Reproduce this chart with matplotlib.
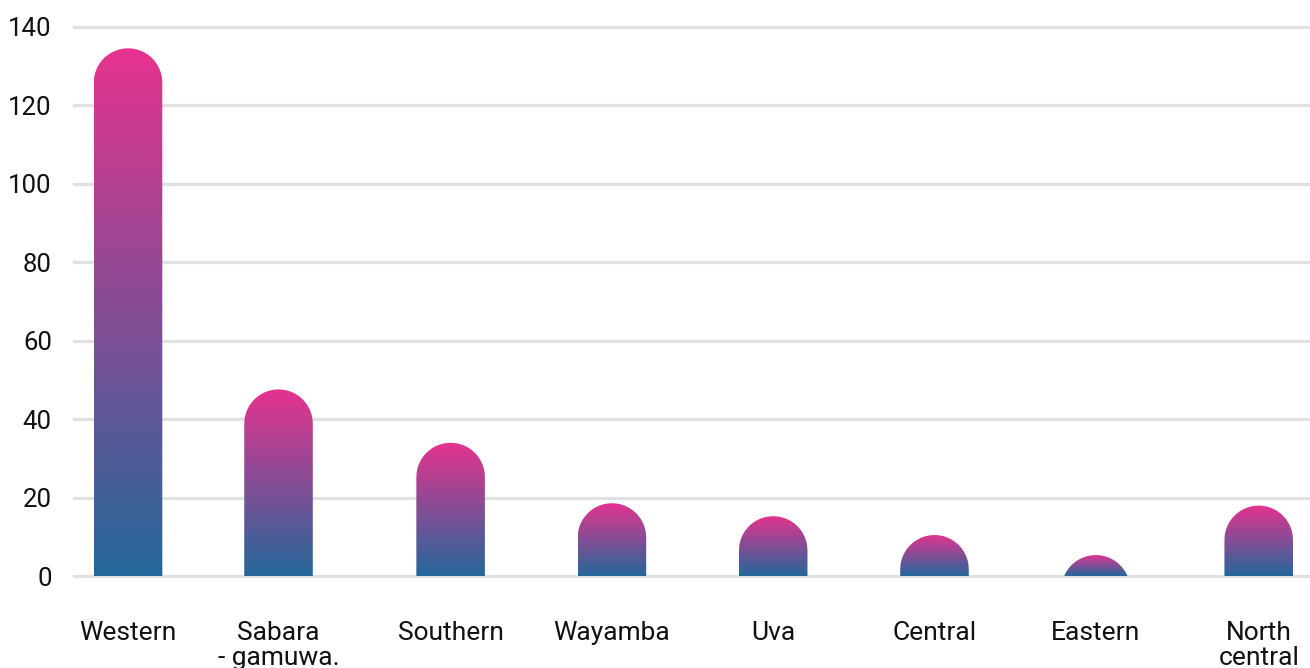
import numpy as np
import matplotlib
matplotlib.use("Agg")
import matplotlib.pyplot as plt
from matplotlib.path import Path
from matplotlib.patches import PathPatch
from matplotlib.colors import LinearSegmentedColormap

# ---- data ----
categories = ["Western", "Sabara\n- gamuwa.", "Southern", "Wayamba", "Uva",
              "Central", "Eastern", "North\ncentral"]
values = [134.5, 47.6, 34.0, 18.6, 15.3, 10.5, 5.4, 18.0]
yticks = [0, 20, 40, 60, 80, 100, 120, 140]

# ---- layout ----
positions = [0, 0.933, 2, 3, 4, 5, 6, 7.01]
bar_width = 0.425
top_color = "#e6338f"
bottom_color = "#24679a"
grid_color = "#e1e1e1"

plt.rcParams['font.family'] = ['Roboto', 'DejaVu Sans']

fig = plt.figure(figsize=(13.1, 6.68), dpi=100)
ax = fig.add_axes([74 / 1310, 0.1344, 1 - 74 / 1310, 0.8314])
ax.set_xlim(-0.335, 7.328)
ax.set_ylim(-0.5, 141)

for s in ax.spines.values():
    s.set_visible(False)

ax.set_yticks(yticks)
ax.set_yticklabels([str(t) for t in yticks])
ax.set_xticks(positions)
ax.set_xticklabels(categories)
ax.tick_params(axis='y', length=0, pad=16, labelsize=18.5, labelcolor="#111111")
ax.tick_params(axis='x', length=0, pad=30.5, labelsize=19, labelcolor="#111111")
for lab in ax.get_xticklabels():
    lab.set_linespacing(1.1)

for t in yticks:
    ax.axhline(t, color=grid_color, lw=2.3, zorder=0, clip_on=False)

cmap = LinearSegmentedColormap.from_list("g", [bottom_color, top_color])
grad = np.linspace(0, 1, 256).reshape(-1, 1)

# radius of rounded top in data units (half bar width in pixels)
fig.canvas.draw()
px_per_x = ax.transData.transform((1, 0))[0] - ax.transData.transform((0, 0))[0]
px_per_y = ax.transData.transform((0, 1))[1] - ax.transData.transform((0, 0))[1]
rx = bar_width / 2
ry = rx * px_per_x / px_per_y

for x, v in zip(positions, values):
    xs = np.linspace(-rx, rx, 200)
    tops = (v - ry) + ry * np.sqrt(np.clip(1 - (xs / rx) ** 2, 0, None))
    tops = np.maximum(tops, 0)
    verts = [(x - rx, 0)] + [(x + dx, ty) for dx, ty in zip(xs, tops)] + [(x + rx, 0), (x - rx, 0)]
    codes = [Path.MOVETO] + [Path.LINETO] * (len(verts) - 2) + [Path.CLOSEPOLY]
    patch = PathPatch(Path(verts, codes), facecolor="none", edgecolor="none", zorder=2)
    ax.add_patch(patch)
    im = ax.imshow(grad, cmap=cmap, origin="lower", aspect="auto",
                   extent=[x - rx, x + rx, 0, v], zorder=2, interpolation="bilinear")
    im.set_clip_path(patch)

ax.set_xlim(-0.335, 7.328)
ax.set_ylim(-0.5, 141)

fig.savefig("out.png", dpi=100)
